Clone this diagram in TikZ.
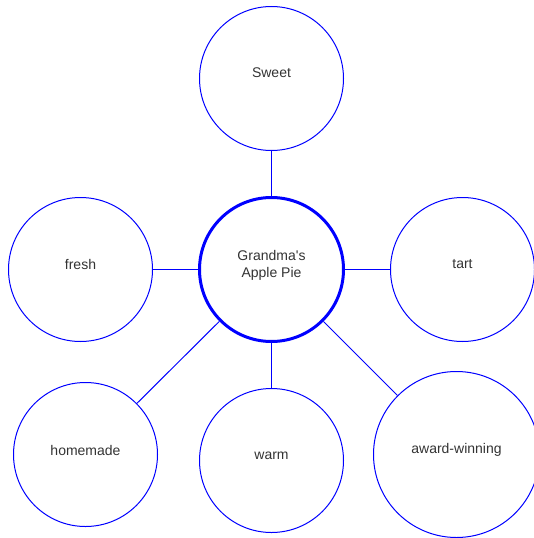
\documentclass[tikz,border=0pt]{standalone}
\usepackage{fontspec}
\setmainfont{Liberation Sans}
\newfontfamily\plainfont{Liberation Sans}
\definecolor{ringblue}{RGB}{0,0,255}
\definecolor{txtgray}{RGB}{51,51,51}
\begin{document}
\begin{tikzpicture}[x=1pt,y=-1pt,
  ring/.style={circle,draw=ringblue,line width=1pt,minimum size=144pt,inner sep=0pt},
  hubring/.style={ring,line width=3pt,minimum size=144pt},
  bigring/.style={ring,minimum size=166pt},
  lbl/.style={text=txtgray,font=\plainfont\fontsize{14pt}{17pt}\selectfont,align=center,inner sep=0pt},
  link/.style={draw=ringblue,line width=1pt}]
\useasboundingbox (0,0) rectangle (534,538);
\node[hubring] (hub) at (271.5,269.5) {};
\node[ring] (sweet) at (271.5,78.5) {};
\node[ring] (fresh) at (80.5,269.5) {};
\node[ring] (tart) at (462.5,269.5) {};
\node[ring] (home) at (85.5,454.5) {};
\node[ring] (warm) at (271.5,460.5) {};
\node[bigring] (award) at (456.5,454.5) {};
\node[lbl] (thub) at (271.5,265) {Grandma's\\Apple Pie};
\node[lbl] (tsweet) at (271.5,73) {Sweet};
\node[lbl] (tfresh) at (80.5,264.5) {fresh};
\node[lbl] (ttart) at (462.5,264.5) {tart};
\node[lbl] (thome) at (85.5,450) {homemade};
\node[lbl] (twarm) at (271.5,455.5) {warm};
\node[lbl] (taward) at (456.5,450) {award-winning};
\draw[link] (sweet) -- (hub);
\draw[link] (fresh) -- (hub);
\draw[link] (hub) -- (tart);
\draw[link] (hub) -- (warm);
\draw[link] (hub) -- (home);
\draw[link] (hub) -- (award);
\end{tikzpicture}
\end{document}
